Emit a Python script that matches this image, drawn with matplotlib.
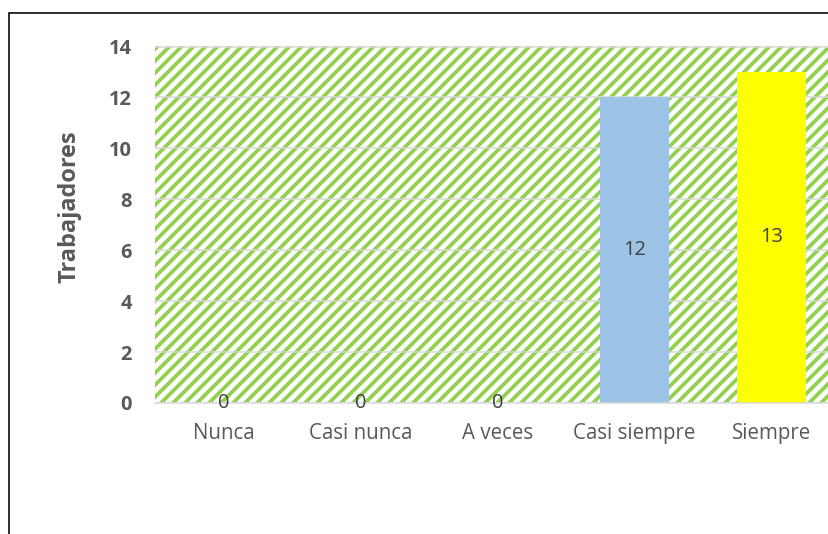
import matplotlib.pyplot as plt
from matplotlib.patches import Rectangle

# ---------------- data ----------------
categorias = ["Nunca", "Casi nunca", "A veces", "Casi siempre", "Siempre"]
trabajadores = [0, 0, 0, 12, 13]
colores = ["#9DC3E6", "#9DC3E6", "#9DC3E6", "#9DC3E6", "#FFFF00"]
y_ticks = [0, 2, 4, 6, 8, 10, 12, 14]

plt.rcParams['font.family'] = ['Open Sans', 'DejaVu Sans']
plt.rcParams['hatch.linewidth'] = 3.8

DPI = 72
fig = plt.figure(figsize=(828 / DPI, 534 / DPI), dpi=DPI)

# outer frame of the chart (cropped at right / bottom)
fig.patches.append(Rectangle((9 / 828, -0.1), 1.2, 1 - 13 / 534 + 0.1,
                             transform=fig.transFigure, fill=False,
                             edgecolor="black", linewidth=1.6))

ax = fig.add_axes([155 / 828, 131 / 534, 685 / 828, 356.5 / 534])

# hatched plot area
ax.add_patch(Rectangle((0, 0), 1, 1, transform=ax.transAxes, facecolor="white",
                       edgecolor="#92D050", linewidth=0, hatch="//", zorder=0.1))

x = range(len(categorias))
bars = ax.bar(x, trabajadores, width=0.5, color=colores, zorder=2)
ax.bar_label(bars, labels=[str(v) for v in trabajadores], label_type="center",
             fontsize=20, color="#404040")

ax.set_xlim(-0.5, len(categorias) - 0.5)
ax.set_ylim(0, 14)
ax.set_yticks(y_ticks)
ax.set_xticks(list(x))
ax.set_xticklabels(categorias, fontsize=20.5, color="#595959")
ax.tick_params(axis="x", length=0, pad=20)
ax.tick_params(axis="y", length=0, pad=23, labelsize=20, labelcolor="#595959")
for lab in ax.get_yticklabels():
    lab.set_fontweight("bold")

ax.set_axisbelow(True)
ax.yaxis.grid(True, color="#D9D9D9", linewidth=1.5)
for s in ["top", "right", "left"]:
    ax.spines[s].set_visible(False)
ax.spines["bottom"].set_color("#D9D9D9")
ax.spines["bottom"].set_linewidth(1.5)

ax.set_ylabel("Trabajadores", fontsize=23.5, fontweight="bold", color="#595959")
ax.yaxis.set_label_coords(-0.107, 0.55)

fig.savefig("out.png", dpi=DPI)
